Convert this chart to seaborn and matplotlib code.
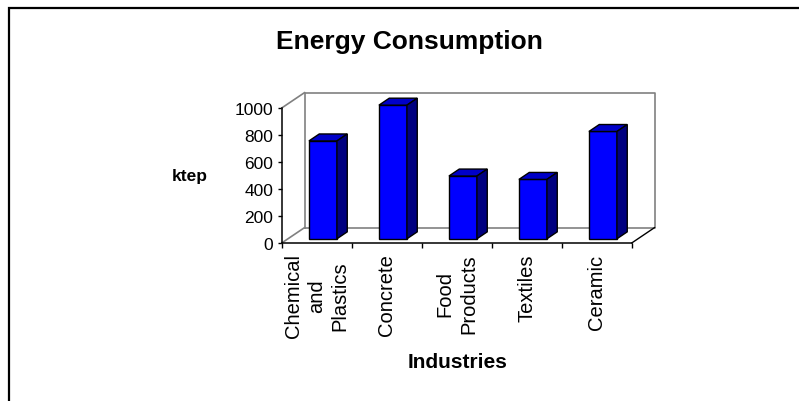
import numpy as np
import matplotlib
matplotlib.use("Agg")
import matplotlib.pyplot as plt
from matplotlib.patches import Polygon, Rectangle
import seaborn as sns

categories = ["Chemical\nand\nPlastics", "Concrete", "Food\nProducts", "Textiles", "Ceramic"]
values = [725, 990, 465, 440, 795]
yticks = [0, 200, 400, 600, 800, 1000]

sns.set_style("white")
plt.rcParams['font.family'] = ['Liberation Sans', 'DejaVu Sans']
plt.rcParams['text.color'] = 'black'
plt.rcParams['xtick.color'] = 'black'
plt.rcParams['ytick.color'] = 'black'
plt.rcParams['xtick.labelcolor'] = 'black'
plt.rcParams['ytick.labelcolor'] = 'black'

W, H = 799, 402
fig = plt.figure(figsize=(W / 100, H / 100), dpi=100)

# plot area in pixels: x=-0.5 at 281.7px, 70px per category; y=0 at 244px, 0.135px per ktep
px_per_cat = 70.0
px_per_val = 0.135
xlim = (-0.5, 4.87)
ylim = (0, 1125)
left = 281.7
bottom = 244
ax = fig.add_axes([left / W, 1 - bottom / H,
                   (xlim[1] - xlim[0]) * px_per_cat / W,
                   (ylim[1] - ylim[0]) * px_per_val / H])
ax.patch.set_alpha(0)

sns.barplot(x=list(range(len(values))), y=values, color="#0000FF", width=0.4,
            edgecolor="black", linewidth=1, saturation=1, ax=ax, zorder=3)

# depth vector of the 3D box (data units)
dxu = 23 / px_per_cat
dyu = 15.5 / px_per_val
f0, f1 = 0.27, 0.72

for p in ax.patches:
    x0, w, h = p.get_x(), p.get_width(), p.get_height()
    p.set_x(x0 + f0 * dxu)
    p.set_y(f0 * dyu)
    fx = x0 + f0 * dxu
    fy = f0 * dyu
    bx = x0 + f1 * dxu
    by = f1 * dyu
    top = Polygon([(fx, h + fy), (fx + w, h + fy), (bx + w, h + by), (bx, h + by)],
                  closed=True, facecolor="#0000C8", edgecolor="black", lw=1, zorder=3)
    side = Polygon([(fx + w, fy), (bx + w, by), (bx + w, h + by), (fx + w, h + fy)],
                   closed=True, facecolor="#000080", edgecolor="black", lw=1, zorder=3)
    ax.add_patch(top)
    ax.add_patch(side)

# back wall, floor and side diagonals
gray = "#808080"
x0b, x1b = -0.5 + dxu, 4.5 + dxu
ax.plot([x0b, x0b, x1b, x1b, x0b], [dyu, 1000 + dyu, 1000 + dyu, dyu, dyu],
        color=gray, lw=1.2, zorder=1, clip_on=False)
ax.plot([-0.5, x0b], [0, dyu], color=gray, lw=1.2, zorder=1, clip_on=False)
ax.plot([-0.5, x0b], [1000, 1000 + dyu], color=gray, lw=1.2, zorder=1, clip_on=False)
ax.plot([4.5, x1b], [0, dyu], color="black", lw=1, zorder=1, clip_on=False)

ax.set_xlim(*xlim)
ax.set_ylim(*ylim)
for s in ["top", "right"]:
    ax.spines[s].set_visible(False)
for s in ["left", "bottom"]:
    ax.spines[s].set_color("black")
    ax.spines[s].set_linewidth(1.1)
ax.spines["left"].set_bounds(0, 1000)
ax.spines["bottom"].set_bounds(-0.5, 4.5)

ax.set_yticks(yticks)
ax.set_yticklabels([str(v) for v in yticks], fontsize=12.5)
ax.tick_params(axis="y", length=3, width=1, pad=3, direction="out", left=True)

ax.set_xticks(range(len(categories)))
ax.set_xticklabels(categories, rotation=90, fontsize=14.5, multialignment="center",
                   linespacing=1.3)
ax.set_xticks(np.arange(-0.5, len(categories), 1), minor=True)
ax.tick_params(axis="x", which="major", length=0, pad=7.5)
ax.tick_params(axis="x", which="minor", length=3.6, width=1, direction="out", bottom=True)
ax.set_xlabel("")
ax.set_ylabel("")

fig.text(409.9 / W, 1 - 49.3 / H, "Energy Consumption", ha="center", va="baseline",
         fontsize=19, fontweight="bold")
fig.text(457.4 / W, 1 - 368 / H, "Industries", ha="center", va="baseline",
         fontsize=15, fontweight="bold")
fig.text(189.7 / W, 1 - 181 / H, "ktep", ha="center", va="baseline",
         fontsize=12.5, fontweight="bold")

# chart area border (only top and left edges fall inside the image)
fig.patches.append(Rectangle((8.5 / W, -0.1), 1.2, 1 - 8.5 / H + 0.1,
                             transform=fig.transFigure, fill=False,
                             edgecolor="black", lw=1.6))

fig.savefig("out.png", dpi=100)
